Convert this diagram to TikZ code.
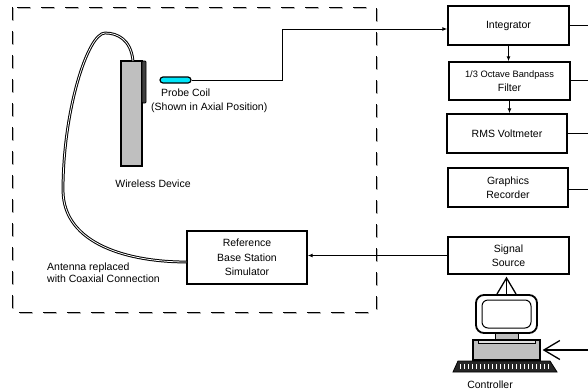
\documentclass[tikz,border=0pt]{standalone}
\usepackage{fontspec}
\setmainfont{Liberation Sans}
\usetikzlibrary{arrows.meta}
\definecolor{coilcyan}{RGB}{0,230,250}
\begin{document}
\begin{tikzpicture}[x=1pt,y=-1pt,
  box/.style={draw, line width=1.4pt, align=center, inner sep=0pt, font=\fontsize{10.5}{14.5}\selectfont},
  lbl/.style={align=center, inner sep=0pt, font=\fontsize{10.5}{14.5}\selectfont},
  conn/.style={line width=1pt},
  dotarr/.style={conn, -{Latex[length=5pt,width=4pt]}},
  barb/.style={line width=1.3pt, -{Straight Barb[length=16pt,width=19pt]}},
  coax/.style={draw=black, line width=1pt, double=white, double distance=0.8pt},
]
\useasboundingbox (0,0) rectangle (588,391);

% dashed enclosure
\draw[gray!60, line width=2.8pt, dash pattern=on 13pt off 11pt] (13,8) rectangle (377,313);
\draw[black, line width=0.6pt, dash pattern=on 13pt off 11pt, shift={(-1.1,-1.1)}] (13,8) rectangle (377,313);

% right column boxes
\node[box, minimum width=121pt, minimum height=39pt] (integ) at (508.5,25.5) {Integrator};
\node[box, minimum width=121pt, minimum height=38pt] (filt) at (509.5,81) {{\fontsize{9.3}{14}\selectfont 1/3 Octave Bandpass}\\Filter};
\node[box, minimum width=120pt, minimum height=39pt] (rms) at (507,133.5) {RMS Voltmeter};
\node[box, minimum width=120pt, minimum height=39pt] (graph) at (508,187.5) {Graphics\\Recorder};
\node[box, minimum width=121pt, minimum height=37pt] (sig) at (508.5,255.5) {Signal\\Source};
\node[box, minimum width=120pt, minimum height=53pt] (ref) at (247,257.5) {Reference\\Base Station\\Simulator};

% bus stubs on the right
\coordinate (b1) at (588,25.5);
\coordinate (b2) at (588,80);
\coordinate (b3) at (588,133);
\coordinate (b4) at (588,189);
\coordinate (cin) at (588,350);
\draw[conn] (integ.east) -- (b1);
\draw[conn] (filt.east |- b2) -- (b2);
\draw[conn] (rms.east |- b3) -- (b3);
\draw[conn] (graph.east |- b4) -- (b4);

% chain arrows
\draw[dotarr] (integ.south) -- (integ.south |- filt.north);
\draw[dotarr] (filt.south) -- (filt.south |- rms.north);
\draw[dotarr] (sig.west) -- (ref.east |- sig.west);

% wireless device
\node[draw, line width=1.2pt, fill=gray!50, minimum width=21pt, minimum height=105pt, inner sep=0pt] (dev) at (131.5,113.5) {};
\node[draw, line width=0.8pt, fill=black!75, rounded corners=1pt, minimum width=4pt, minimum height=42pt, inner sep=0pt] (strip) at (144,82) {};
\node[lbl] (devlbl) at (153,184) {Wireless Device};

% probe coil
\node[draw, line width=1.2pt, fill=coilcyan, rounded corners=3pt, minimum width=31pt, minimum height=6pt, inner sep=0pt] (probe) at (175.5,80) {};
\node[lbl, anchor=west] (pc1) at (161,93) {Probe Coil};
\node[lbl, anchor=west] (pc2) at (151,108) {(Shown in Axial Position)};
\coordinate (k1) at (282,80);
\coordinate (k2) at (282,29);
\draw[conn, -{Latex[length=5pt,width=4pt]}] (probe.east) -- (k1) -- (k2) -- (k2 -| integ.west);

% coaxial cable
\coordinate (cabtop) at (133,61);
\draw[coax] (cabtop) .. controls (131,40) and (118,33) .. (105,33)
  .. controls (88,33) and (63,110) .. (63,190)
  .. controls (63,245) and (130,262) .. (ref.west |- 0,262);
\node[lbl, anchor=west, align=left, font=\fontsize{10.5}{12.5}\selectfont] (ant) at (47,272.5) {Antenna replaced\\with Coaxial Connection};

% controller computer
\node[draw, line width=1.8pt, rounded corners=8pt, fill=white, minimum width=61pt, minimum height=38pt, inner sep=0pt] (mon) at (506.5,314) {};
\draw[line width=1pt, rounded corners=6pt, fill=white] (482,300) rectangle (531,328);
\draw[line width=0.8pt, fill=gray!50] (495,333) rectangle (518,339);
\node[draw, line width=1.2pt, fill=gray!50, minimum width=67pt, minimum height=20pt, inner sep=0pt] (base) at (506.5,350) {};
\draw[line width=0.8pt, fill=gray!25] (478,340) rectangle (535,343);
\filldraw[fill=black!85, line width=0.8pt] (458,361) -- (550,361) -- (557,372) -- (453,372) -- cycle;
\foreach \i in {0,...,22} { \fill[white] (460+4*\i,363.5) rectangle ++(1.4,5.5); }
\node[lbl] (ctl) at (490,385) {Controller};

\draw[barb, shorten >=2pt] (mon.north) -- (mon.north |- sig.south);
\draw[barb, shorten >=2pt] (cin) -- (base.east);
\end{tikzpicture}
\end{document}
